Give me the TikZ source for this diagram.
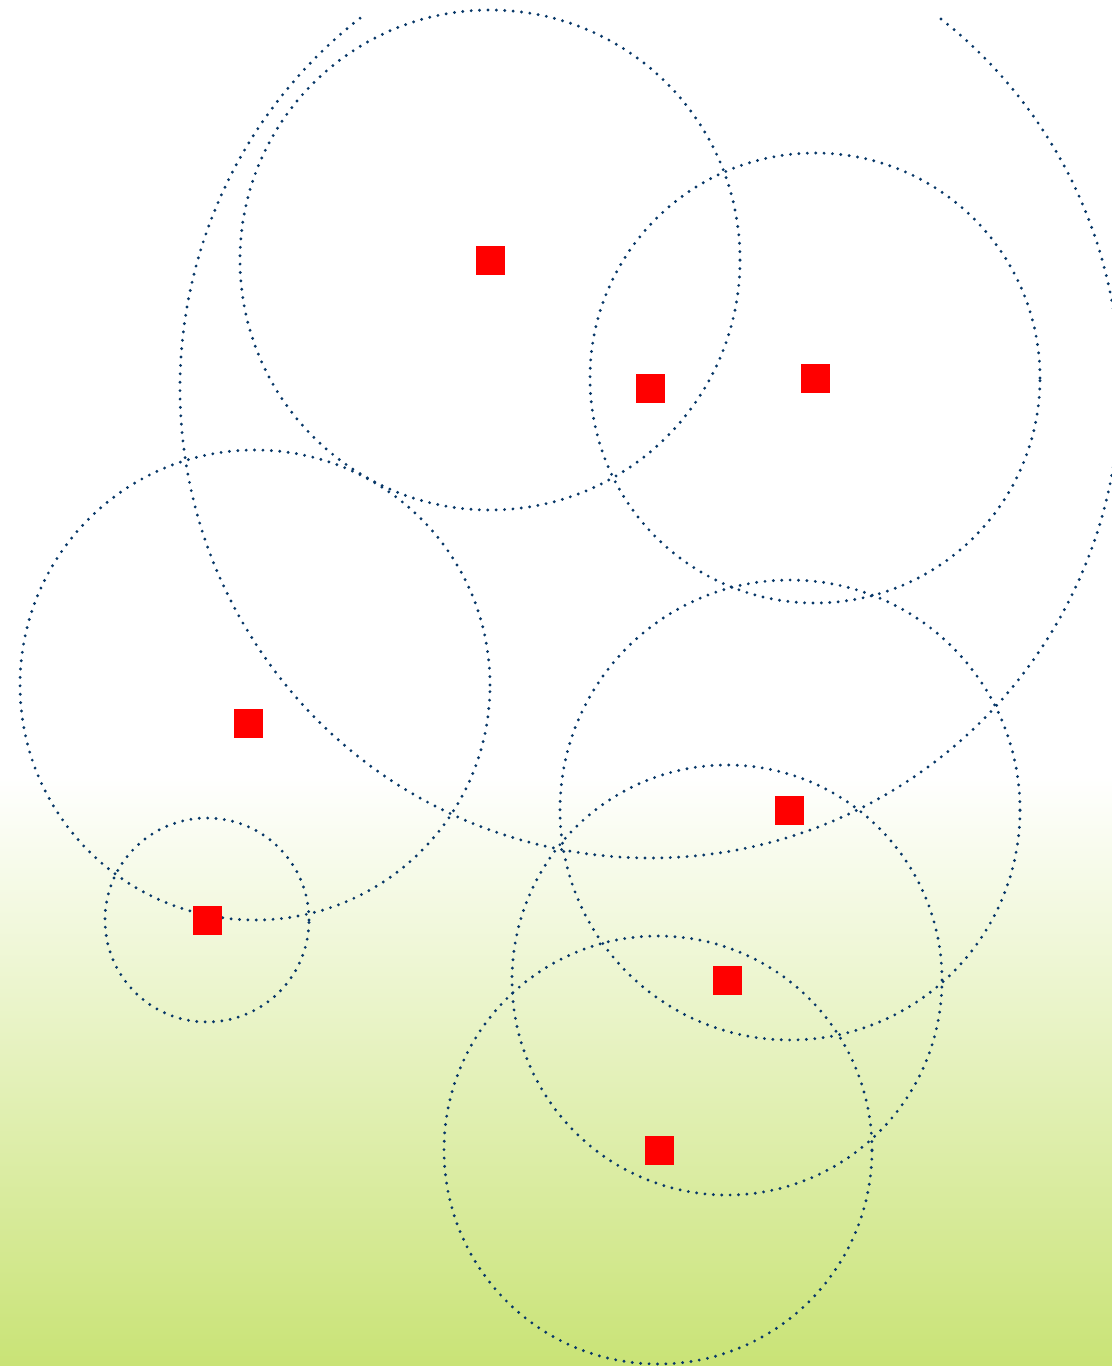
\documentclass[tikz,border=0pt]{standalone}
\definecolor{ringcol}{RGB}{8,56,104}
\definecolor{bggreen}{RGB}{201,227,118}
\definecolor{sqred}{RGB}{255,0,0}
\tikzset{
  ring/.style={draw=ringcol, line width=1.6pt, dash pattern=on 0pt off 4.2pt, line cap=round},
  ringnode/.style={circle, ring, inner sep=0pt, minimum size=#1},
  redsq/.style={rectangle, fill=sqred, draw=none, inner sep=0pt, minimum size=14.5pt}
}
\begin{document}
\begin{tikzpicture}[x=0.5pt,y=-0.5pt]
\useasboundingbox (0,0) rectangle (1112,1366);
\fill[white] (0,0) rectangle (1112,776);
\shade[top color=white, bottom color=bggreen] (0,775) rectangle (1112,1366);
\begin{scope}
\clip (0,0) rectangle (1112,1366);
% circles
\node[ringnode=250pt] (c1) at (490,260) {};
\node[ringnode=225pt] (c2) at (815,378) {};
\node[ringnode=235pt] (c4) at (255,685) {};
\node[ringnode=102pt] (c5) at (207,920) {};
\node[ringnode=230pt] (c6) at (790,810) {};
\node[ringnode=215pt] (c7) at (727,980) {};
\node[ringnode=214pt] (c8) at (658,1150) {};
\coordinate (bigc) at (650,388);
\draw[ring] (bigc) ++(128.1:235pt) arc[start angle=128.1, end angle=412.6, radius=235pt];
\end{scope}
% red squares
\node[redsq] (s1) at (490.5,260) {};
\node[redsq] (s2) at (650.5,388.5) {};
\node[redsq] (s3) at (815,378) {};
\node[redsq] (s4) at (248,723) {};
\node[redsq] (s5) at (207,920) {};
\node[redsq] (s6) at (789,810) {};
\node[redsq] (s7) at (727,980) {};
\node[redsq] (s8) at (659,1150) {};
\end{tikzpicture}
\end{document}
